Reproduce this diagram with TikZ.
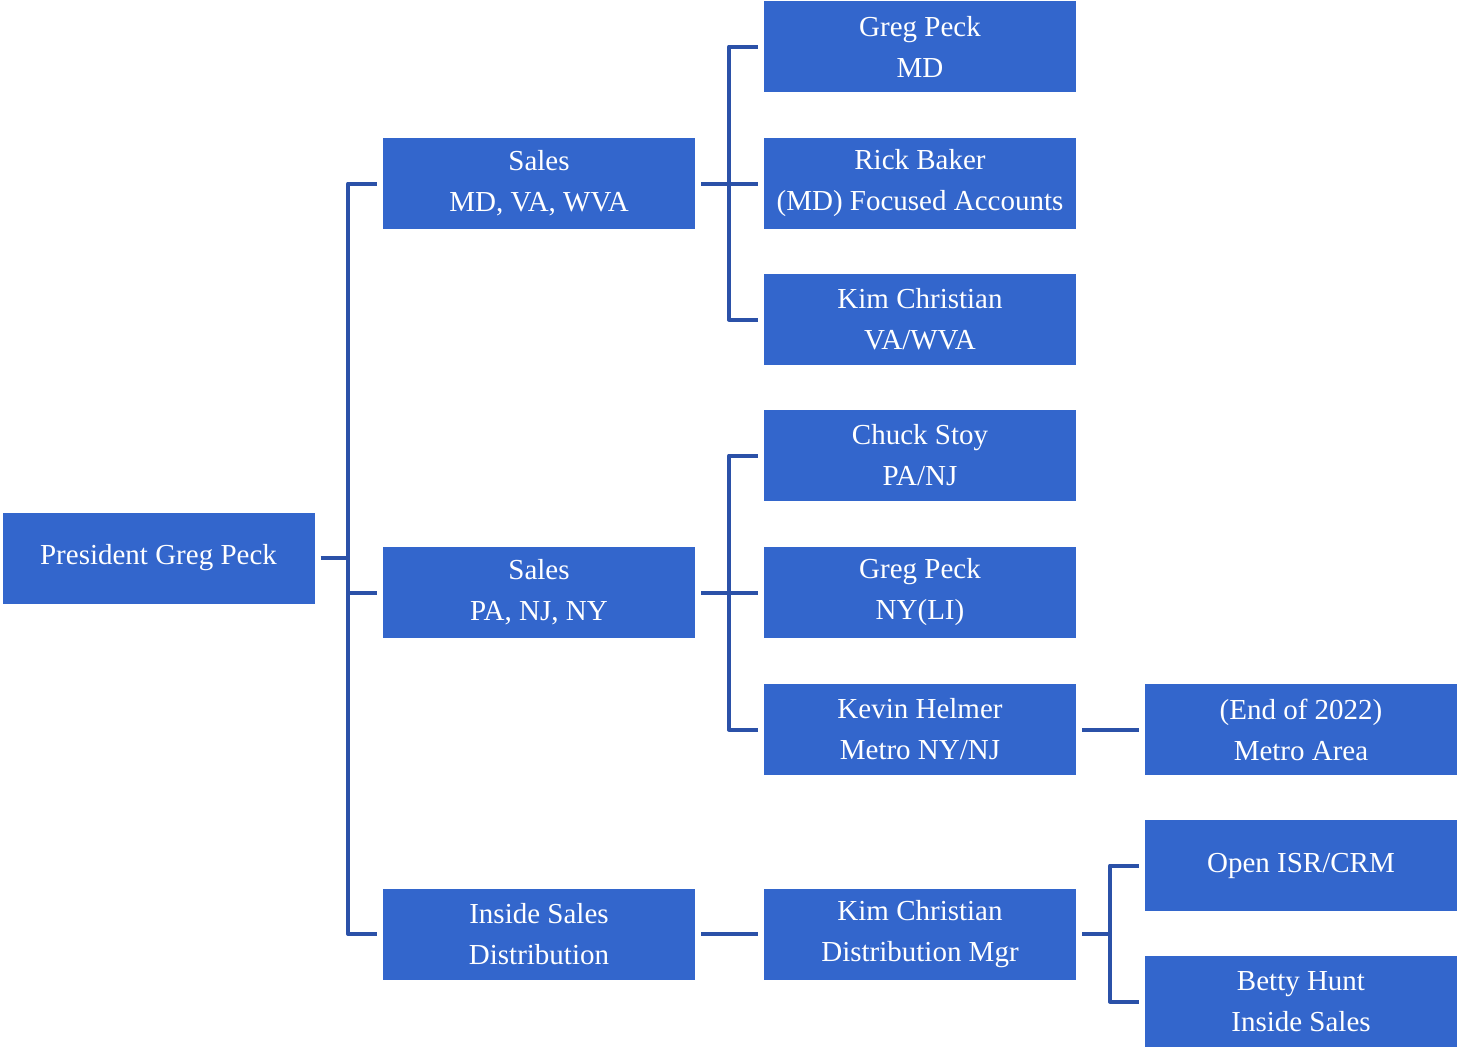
\documentclass[tikz,border=0pt]{standalone}
\usepackage{fontspec}
\setmainfont{Liberation Serif}
\definecolor{boxblue}{HTML}{3366CC}
\definecolor{lineblue}{HTML}{2B51A8}
\begin{document}
\begin{tikzpicture}[x=1pt,y=-1pt,
  box/.style={fill=boxblue,draw=none,text=white,minimum width=312pt,minimum height=91pt,
    inner sep=0pt,align=center,font=\fontsize{29}{41}\selectfont},
  conn/.style={draw=lineblue,line width=4pt,line join=round}]
\useasboundingbox (0,0) rectangle (1457,1047);
% boxes
\node[box] (pres) at (158.5,558) {President Greg Peck};
\node[box] (salesA) at (539,183.5) {Sales\\MD, VA, WVA};
\node[box] (salesB) at (539,592.5) {Sales\\PA, NJ, NY};
\node[box] (inside) at (539,934) {Inside Sales\\Distribution};
\node[box] (gregA) at (920,46.5) {Greg Peck\\MD};
\node[box] (rick) at (920,183.5) {Rick Baker\\(MD) Focused Accounts};
\node[box] (kimA) at (920,319.5) {Kim Christian\\VA/WVA};
\node[box] (chuck) at (920,455.5) {Chuck Stoy\\PA/NJ};
\node[box] (gregB) at (920,592.5) {Greg Peck\\NY(LI)};
\node[box] (kevin) at (920,729.5) {Kevin Helmer\\Metro NY/NJ};
\node[box] (kimB) at (920,934) {Kim Christian\\Distribution Mgr};
\node[box] (metro) at (1301,729.5) {(End of 2022)\\Metro Area};
\node[box] (open) at (1301,865.5) {Open ISR/CRM};
\node[box] (betty) at (1301,1001.5) {Betty Hunt\\Inside Sales};
% bus lines
\coordinate (busA) at (348,558);
\coordinate (busB) at (729,183.5);
\coordinate (busC) at (729,592.5);
\coordinate (busD) at (1110,934);
\draw[conn] ([xshift=6pt]pres.east) -- (busA);
\draw[conn] ([xshift=-6pt]salesA.west) -| (busA) |- ([xshift=-6pt]inside.west);
\draw[conn] (busA) |- ([xshift=-6pt]salesB.west);
\draw[conn] ([xshift=6pt]salesA.east) -- (busB);
\draw[conn] ([xshift=-6pt]gregA.west) -| (busB) |- ([xshift=-6pt]kimA.west);
\draw[conn] (busB) -- ([xshift=-6pt]rick.west);
\draw[conn] ([xshift=6pt]salesB.east) -- (busC);
\draw[conn] ([xshift=-6pt]chuck.west) -| (busC) |- ([xshift=-6pt]kevin.west);
\draw[conn] (busC) -- ([xshift=-6pt]gregB.west);
\draw[conn] ([xshift=6pt]kevin.east) -- ([xshift=-6pt]metro.west);
\draw[conn] ([xshift=6pt]inside.east) -- ([xshift=-6pt]kimB.west);
\draw[conn] ([xshift=6pt]kimB.east) -- (busD);
\draw[conn] ([xshift=-6pt]open.west) -| (busD) |- ([xshift=-6pt]betty.west);
\end{tikzpicture}
\end{document}
